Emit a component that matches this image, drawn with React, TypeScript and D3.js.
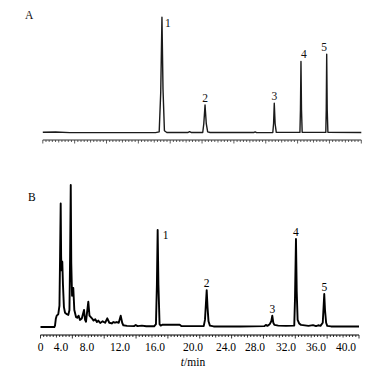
import React from "react";
import * as d3 from "d3";

// Tick labels as printed on the time axis (min) and their visual anchors on the axis
const tickValues = [0, 4, 8, 12, 16, 20, 24, 28, 32, 36, 40];
const tickLabels = ["0", "4.0", "8.0", "12.0", "16.0", "20.0", "24.0", "28.0", "32.0", "36.0", "40.0"];
const axisEndTime = 41.7;

// Chromatogram A (standards): [time min, relative response]
const traceA: [number, number][] = [
  [0, 0.6], [2.5, 0.9], [5, 0.3], [10, 0.3], [15.8, 0.3], [16.2, 1], [16.36, 35], [16.49, 100], [16.6, 38], [16.75, 2],
  [17, 0.4], [19.2, 0.4], [19.4, 1.2], [19.6, 0.4], [20.9, 0.4], [21.03, 8], [21.18, 24.2], [21.33, 8], [21.5, 1],
  [21.8, 0.4], [27.5, 0.4], [27.7, 1], [27.9, 0.3], [30.0, 0.4], [30.1, 8], [30.19, 25.7], [30.3, 8], [30.45, 0.6],
  [33.55, 0.5], [33.62, 20], [33.69, 61.8], [33.76, 20], [33.85, 0.6], [37.0, 0.5], [37.06, 20], [37.12, 68],
  [37.19, 20], [37.28, 0.6], [41.7, 0.4],
];
const peaksA: [string, number, number][] = [
  ["1", 16.49, 100], ["2", 21.18, 24.2], ["3", 30.19, 25.7], ["4", 33.69, 61.8], ["5", 37.12, 68],
];

// Chromatogram B (sample)
const traceB: [number, number][] = [
  [0, 0], [2.7, 0], [2.83, 1], [3.0, 6], [3.16, 8], [3.47, 9], [3.7, 15], [3.82, 50], [3.94, 87], [4.02, 50],
  [4.08, 40], [4.2, 46], [4.3, 30], [4.45, 14], [4.62, 10], [4.9, 9], [5.12, 8.5], [5.3, 12], [5.4, 50], [5.5, 100],
  [5.58, 45], [5.7, 22], [5.89, 27.5], [6.05, 12], [6.31, 7], [6.5, 6.5], [6.7, 8], [6.92, 5], [7.2, 6], [7.54, 12],
  [7.7, 5], [7.85, 3.7], [8.0, 10], [8.16, 17.8], [8.3, 8], [8.57, 6.3], [8.8, 4.5], [9.0, 5.5], [9.2, 3.5],
  [9.37, 4.5], [9.6, 2.8], [9.9, 4], [10.2, 3], [10.46, 6.1], [10.7, 3], [11.0, 2.5], [11.2, 3.5], [11.39, 3],
  [11.6, 3.5], [11.85, 3], [12.08, 8], [12.25, 3], [12.38, 1.2], [12.8, 0.8], [13.6, 0.6], [13.8, 1.4], [14.0, 0.6],
  [14.5, 1], [15.0, 0.5], [15.9, 0.5], [16.1, 2], [16.2, 30], [16.28, 68.3], [16.36, 30], [16.48, 2], [16.6, 1],
  [16.8, 1.6], [18.6, 1.6], [18.8, 0.6], [21.3, 0.6], [21.45, 5], [21.56, 16], [21.66, 26], [21.76, 14], [21.88, 4],
  [22.05, 1], [22.5, 0.4], [26, 0.4], [29.2, 0.6], [29.4, 1.5], [29.6, 0.8], [29.9, 2], [30.1, 4], [30.23, 8],
  [30.36, 3], [30.5, 1.5], [31, 1], [32, 0.8], [33.1, 1], [33.2, 20], [33.33, 62], [33.43, 25], [33.55, 5],
  [33.75, 2.5], [34, 1.5], [35, 0.8], [35.6, 1.3], [36, 0.6], [36.3, 1.2], [36.6, 0.8], [36.9, 3], [37.0, 13],
  [37.1, 23.2], [37.2, 12], [37.35, 3], [37.5, 0.8], [38, 0.4], [41.7, 0.4],
];
const peaksB: [string, number, number][] = [
  ["1", 16.28, 68.3], ["2", 21.66, 26], ["3", 30.23, 8], ["4", 33.33, 62], ["5", 37.1, 23.2],
];

const W = 387;
const H = 372;
const FONT = "'Liberation Serif', 'Times New Roman', serif";

// time scale (the printed tick labels are unevenly spaced, so the scale is piecewise)
const x = d3
  .scaleLinear()
  .domain([...tickValues, axisEndTime])
  .range([40.5, 61, 87, 120, 155, 193, 226, 255, 286, 316, 346, 359]);

const yA = d3.scaleLinear().domain([0, 100]).range([133, 17.3]);
const yB = d3.scaleLinear().domain([0, 100]).range([327, 185]);

const minorCount = 100;
const tickIdx = d3.scaleLinear().domain([0, minorCount]).range([x(0), x(axisEndTime)]);

function Axis({ y, color }: { y: number; color: string }) {
  return (
    <g>
      <line x1={x(0)} x2={x(axisEndTime)} y1={y} y2={y} stroke={color} strokeWidth={1.1} />
      {d3.range(0, minorCount + 1).map((i) => (
        <line
          key={i}
          x1={tickIdx(i)}
          x2={tickIdx(i)}
          y1={y}
          y2={y + (i % 10 === 0 ? 3.5 : i % 5 === 0 ? 2.5 : 2)}
          stroke={color}
          strokeWidth={0.8}
        />
      ))}
    </g>
  );
}

export default function App() {
  const lineA = d3
    .line<[number, number]>()
    .x((d) => x(d[0]))
    .y((d) => yA(d[1]));
  const lineB = d3
    .line<[number, number]>()
    .x((d) => x(d[0]))
    .y((d) => yB(d[1]));

  return (
    <svg
      width={W}
      height={H}
      style={{ position: "absolute", left: 0, top: 0, background: "#fff" }}
      fontFamily={FONT}
    >
      {/* Panel A */}
      <text x={25} y={19} fontSize={11.5} fill="#111">A</text>
      <g transform="translate(2.3,0)">
        <Axis y={140} color="#333" />
        <path d={lineA(traceA) || ""} fill="none" stroke="#1a1a1a" strokeWidth={1.4} strokeLinejoin="round" />
        {peaksA.map(([lab, t, v]) => (
          <text
            key={lab}
            x={x(t) + (lab === "1" ? 3 : lab === "4" ? 3 : lab === "5" ? -2.5 : 0)}
            y={yA(v) + (lab === "1" ? 10 : -3)}
            fontSize={11.5}
            fill="#111"
            textAnchor={lab === "1" ? "start" : "middle"}
          >
            {lab}
          </text>
        ))}
      </g>

      {/* Panel B */}
      <text x={28} y={201} fontSize={11.5} fill="#000">B</text>
      <Axis y={335} color="#000" />
      <path d={lineB(traceB) || ""} fill="none" stroke="#000" strokeWidth={1.9} strokeLinejoin="round" />
      {peaksB.map(([lab, t, v]) => (
        <text
          key={lab}
          x={x(t) + (lab === "1" ? 5 : 0)}
          y={yB(v) + (lab === "1" ? 9 : -3)}
          fontSize={11.5}
          fill="#000"
          textAnchor={lab === "1" ? "start" : "middle"}
        >
          {lab}
        </text>
      ))}
      {tickValues.map((v, i) => (
        <text key={v} x={x(v)} y={351} fontSize={11.5} fill="#000" textAnchor="middle">
          {tickLabels[i]}
        </text>
      ))}
      <text x={x(20)} y={366} fontSize={11.5} fill="#000" textAnchor="middle">
        <tspan fontStyle="italic">t</tspan>/min
      </text>
    </svg>
  );
}
